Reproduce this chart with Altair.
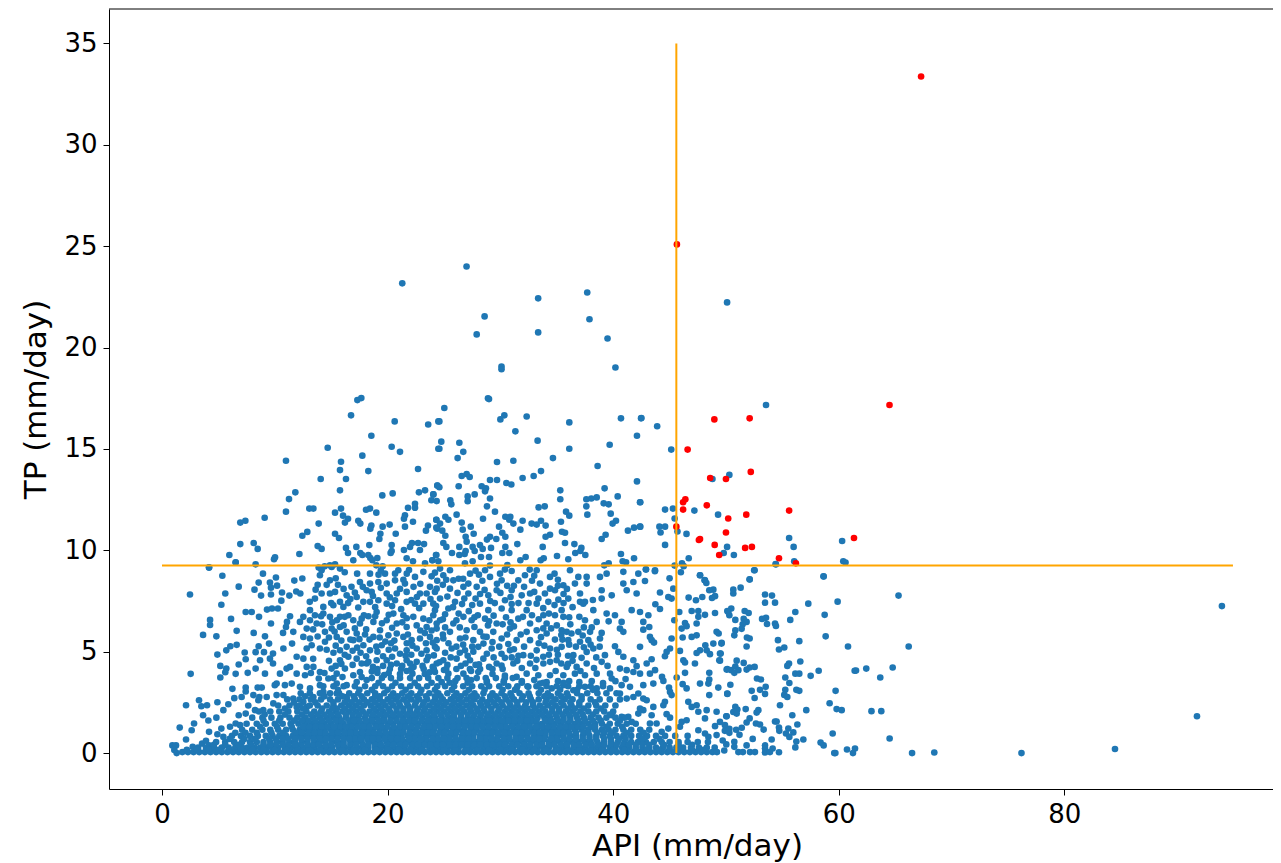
import altair as alt
import pandas as pd

threshold_api = 45.6
threshold_tp = 9.25
line_api_end = 94.95
line_tp_end = 35.0

red_points = [[67.3,33.37],[45.65,25.09],[64.5,17.17],[48.97,16.46],[52.1,16.51],[46.6,14.97],[52.2,13.87],[48.6,13.57],
[50.0,13.52],[46.4,12.52],[46.2,12.37],[46.2,12.01],[48.3,12.22],[55.6,11.96],[51.8,11.76],[50.2,11.57],[45.6,11.17],
[50.0,10.88],[61.35,10.61],[47.7,10.56],[47.6,10.51],[49.0,10.27],[52.3,10.17],[51.7,10.12],[49.4,9.77],[54.7,9.61],[56.2,9.36]]

blue_top = [[21.3,23.17],[27.0,24.0],[33.35,22.43],[37.7,22.72],[50.1,22.23],[28.6,21.54],[27.9,20.65],[33.35,20.75],
[37.9,21.4],[39.5,20.45],[30.1,19.07],[30.1,18.93],[40.2,19.02],[28.9,17.5]]

blue_right_high = [[53.55,17.17],[43.9,16.12],[42.5,16.53],[45.15,14.97],[50.3,13.72],[48.8,13.52],[42.4,12.37],[44.6,12.01],
[45.3,12.06],[47.2,11.96],[49.3,11.76],[45.45,11.57],[42.4,11.17],[44.1,11.17],[44.6,11.17],[44.2,10.88],[45.7,10.93],
[46.5,10.81],[44.6,10.27],[55.6,10.61],[56.0,10.17],[60.3,10.46],[50.1,10.17],[49.8,9.87],[50.7,9.77],[46.7,9.61],[46.1,9.36],
[45.45,9.25],[46.25,9.22],[54.4,9.32],[56.05,9.46],[60.4,9.46],[60.6,9.4],[42.9,9.07],[43.7,8.97],[46,8.92],[47.7,8.77],
[52.5,9.02],[58.65,8.72],[45,8.62],[52.1,8.57],[48.1,8.53]]

blue_left_high = [[17.67,17.51],[17.32,17.41],[16.76,16.66],[20.63,16.36],[23.6,16.21],[24.5,16.36],[18.56,15.65],[20.36,15.11],
[21.1,14.86],[14.69,15.06],[24.5,15.01],[10.99,14.42],[17.76,14.67],[15.87,14.37],[15.78,13.96],[18.29,13.91],[22.7,14.01],
[16.31,13.52],[14.07,13.52],[15.78,12.96],[11.82,12.86],[11.26,12.53],[19.53,12.71],[20.45,12.81],[22.78,12.86],[23.32,12.96],
[24.41,13.2],[24.05,12.76],[23.88,12.47],[24.35,12.43],[13.06,12.06],[13.42,12.06],[15.87,12.06],[18.09,12.0],[18.44,12.06],
[15.34,11.86],[19,11.86],[10.99,11.91],[21.81,12.1],[22.43,12.3],[22.43,12.1],[21.54,11.73],[21.45,11.56],[16.05,11.71],
[16.49,11.56],[16.22,11.37],[17.4,11.46],[17.58,11.32],[9.1,11.61],[7.39,11.46],[6.94,11.37],[13.89,11.32],[18.56,11.22],
[18.47,11.07],[19.56,11.17],[20.18,11.27],[21.54,11.17],[22.25,11.41],[24.32,11.51],[23.58,11.22],[23.4,10.97],[24.41,11.07],
[20.72,10.82],[19.36,10.82],[19.27,10.56],[15.34,10.82],[15.69,10.61],[12.88,10.91],[12.44,10.72],[6.94,10.31],[8.13,10.36],
[8.48,10.07],[5.97,9.77],[6.53,9.41],[8.3,9.31],[4.17,9.16],[9.93,9.56],[10.02,9.66],[12.18,9.82],[13.8,10.21],[14.15,10.07],
[16.31,10.12],[17.23,10.17],[16.49,9.87],[17.58,9.87],[17.76,9.77],[18.38,10.26],[18.29,9.77],[18.47,9.62],[19.09,9.62],
[18.65,9.51],[20.36,10.26],[20.36,9.97],[20.27,9.87],[21.45,10.02],[21.99,10.17],[22.16,10.36],[22.7,10.36],[23.23,10.31],
[22.87,10.02],[21.69,9.61],[22.25,9.46],[24.32,9.77],[23.97,9.51],[23.32,9.36],[16.96,9.51],[19,9.26],[19.56,9.21],[15.34,9.31],
[14.89,9.26],[14.42,9.21],[13.89,9.15]]

blue_mid_high = [[28.99,17.46],[25.03,17.02],[24.59,16.36],[30.35,16.66],[30,16.46],[32.33,16.6],[36.11,16.31],[40.69,16.51],
[42.47,16.51],[31.33,15.87],[42.11,15.65],[33.3,15.41],[26.36,15.31],[24.76,15.36],[24.59,15.01],[26.71,14.86],[36.11,15.01],
[39.69,15.21],[26.21,14.55],[29.7,14.36],[31.15,14.42],[34.66,14.55],[38.62,14.16],[33.6,13.91],[32.95,13.67],[31.97,13.57],
[29.7,13.47],[29.08,13.47],[30.53,13.32],[30.97,13.25],[27.01,13.76],[26.57,13.67],[27.28,13.62],[26.3,13.16],[24.41,13.2],
[24.59,13.11],[28.34,13.16],[28.72,13.06],[28.64,12.91],[27.72,12.76],[27.1,12.66],[27.1,12.42],[29.08,12.56],[28.81,12.17],
[29.52,11.91],[25.56,12.47],[25.65,12.27],[24.06,12.76],[35.31,12.96],[35.31,12.52],[33.39,12.12],[33.93,12.17],[35.82,11.91],
[36.11,11.71],[37.62,12.52],[38.06,12.56],[38.54,12.61],[37.62,12.17],[37.71,11.76],[39.24,13.06],[39.16,12.32],[39.6,12.27],
[40.4,12.66],[42.11,13.4],[42.38,12.37],[39.78,11.81],[26.12,11.76],[25.12,11.66],[25.39,11.51],[24.32,11.51],[24.65,11.32],
[26.57,11.37],[28.46,11.56],[30.44,11.66],[30.88,11.66],[30.79,11.51],[31.15,11.32],[31.97,11.46],[32.77,11.32],[33.22,11.27],
[33.6,11.46],[34.01,11.22],[35.37,11.41],[40.25,11.46],[39.95,11.32],[41.85,11.12],[42.38,11.17],[41.31,10.97],[27.37,11.17],
[26.66,11.02],[29.88,11.17],[31.77,11.02],[24.32,11.12],[24.85,10.97],[25.12,10.72],[27.63,10.82],[26.92,10.67],[30.17,10.87],
[29.08,10.67],[28.81,10.53],[29.64,10.56],[30.44,10.67],[35.46,10.92],[35.73,10.87],[34.4,10.77],[34.01,10.67],[39.33,10.77],
[38.98,10.56],[35.73,10.36],[36.56,10.31],[31.5,10.31],[24.94,10.36],[25.21,10.17],[26.36,10.17],[27.01,10.43],[28.19,10.26],
[27.54,10.17],[28.43,10.07],[27.72,9.97],[26.92,9.97],[29.17,10.12],[30.44,10.17],[33.75,10.17],[25.71,9.87],[26.36,9.77],
[26.83,9.82],[28.99,9.67],[28.28,9.67],[30.17,9.87],[30.79,9.87],[32.24,9.67],[31.77,9.51],[33.84,9.61],[33.57,9.51],[35.02,9.72],
[36.02,9.56],[36.64,9.87],[37.18,10.12],[37.09,9.97],[37.53,9.77],[40.69,9.82],[41.85,9.61],[40.84,9.46],[41.14,9.41],[39.6,9.36],
[39.21,9.26],[24.29,9.77],[23.97,9.51],[24.5,9.46],[26.86,9.36],[27.54,9.46],[29.08,9.25],[30.62,9.28]]

blue_left_low = [[4.17,9.15],[6.53,9.4],[5.35,8.75],[8.95,8.85],[6.8,8.21],[8.57,8.41],[8.2,8.06],[10.1,8.66],[9.57,8.41],[9.66,8.16],
[10.2,8.26],[2.48,7.82],[5.61,7.87],[5.26,7.32],[8.78,7.77],[9.66,7.82],[10.64,7.92],[10.58,7.52],[11.73,8.51],[12.44,8.61],
[11.29,7.77],[11.9,7.97],[12.26,7.87],[13.62,8.06],[7.42,6.96],[7.95,6.96],[9.31,7.08],[9.75,7.13],[10.28,7.13],[8.6,6.72],[6.12,6.62],
[4.26,6.57],[4.26,6.32],[9.66,6.39],[6.62,6.03],[3.64,5.83],[4.82,5.76],[8.13,5.93],[9.13,5.76],[10.73,5.93],[11.35,6.75],[11.08,6.47],
[10.99,6.22],[11.64,5.98],[6.62,5.34],[6.06,5.27],[5.7,5.07],[4.91,4.86],[7.33,4.96],[8.57,5.27],[8.3,4.98],[9.49,5.4],[9.04,4.98],
[9.84,4.91],[10.76,5.16],[11.53,5.4],[5.17,4.3],[5.7,4.17],[6.8,4.37],[7.42,4.63],[7.6,3.96],[8.3,4.17],[8.69,4.58],[9.57,4.66],[9.84,4.42],
[9.13,3.92],[2.54,3.91],[5.17,3.73],[5.61,3.99],[6.53,3.91],[6.24,3.17],[7.42,3.23],[7.42,3.04],[8.48,3.23],[8.84,3.23],[10,3.35],[3.28,2.61],
[2.13,2.36],[3.49,2.31],[3.99,2.36],[4.91,2.51],[3.64,1.87],[4.11,1.61],[4.82,1.75],[5.44,2.12],[5.88,2.41],[6.41,2.71],[7.06,2.77],[6.8,1.87],
[7.42,1.95],[1.57,1.26],[2.84,1.46],[2.63,1.13],[4.17,1.05],[2.13,0.67],[4.91,0.93],[0.92,0.38],[1.24,0.38],[1.09,0.15],[1.3,0.0],[2.72,0.31],
[3.55,0.47],[3.9,0.61],[4.17,0.39],[5.26,1.21],[5.44,0.8],[6.03,1.3],[6.53,1.46],[6.92,1.38],[7.65,2.35],[8.1,2.86],[8.54,2.61],[8.98,2.12],
[8.25,2.12],[8.63,2.77],[10.16,2.86]]

blue_right_low = [[52.54,9.02],[52.1,8.56],[54.43,9.31],[58.66,8.71],[51.3,8.16],[50.65,8.06],[50.65,7.87],[53.46,7.82],[54.08,7.77],[53.46,7.42],
[54.35,7.42],[57.3,7.37],[59.9,7.47],[65.3,7.77],[50.47,7.13],[50.12,7.01],[50.3,6.8],[51.66,7.01],[52.01,6.91],[56.15,6.96],[58.75,6.82],
[50.83,6.57],[51.57,6.62],[51.83,6.47],[51.48,6.35],[51.39,6.13],[50.83,6.06],[50.74,5.81],[53.2,6.62],[53.55,6.67],[53.64,6.37],[54.35,6.39],
[54.43,6.27],[55.7,6.57],[51.86,5.7],[52.1,5.65],[51.83,5.26],[54.61,5.57],[56.5,5.52],[58.84,5.76],[55.17,5.21],[54.7,5.11],[60.82,5.26],
[66.2,5.26],[49.6,5.4],[49.53,4.91],[50.95,4.56],[51.57,4.45],[49.47,4.56],[56.59,4.52],[55.59,4.42],[55.44,4.3],[50.83,4.27],[50.12,4.14],
[50.47,4.09],[50.74,3.96],[51.1,4.09],[52.1,4.22],[51.83,4.12],[52.54,4.25],[56.15,3.92],[56.5,3.92],[58.22,4.06],[57.51,3.81],[61.41,4.06],
[61.53,4.07],[62.44,4.17],[64.78,4.22],[63.68,3.73],[55.26,3.73],[55.62,3.46],[52.75,3.68],[53.1,3.63],[50.39,3.37],[53.52,3.27],[53.02,3.12],
[52.28,3.07],[55.26,3.12],[56.24,3.12],[56.5,3.07],[59.72,3.07],[50.12,2.92],[53.46,2.92],[55.17,2.87],[55.44,2.77],[52.54,2.72],[54.79,2.36],
[59.19,2.46],[57.12,2.12],[59.81,2.17],[60.26,2.12],[63.77,2.07],[50.83,2.28],[51.01,2.15],[50.65,2.03],[50.95,1.95],[51.75,2.17],[52.87,2.12],
[52.72,2],[50.03,1.82],[52.1,1.71],[51.83,1.51],[55.88,1.87],[52.66,1.46],[53.02,1.41],[53.34,1.16],[54.35,1.56],[54.49,1.56],[54.7,1.26],
[54.73,1.1],[56.33,1.41],[55.53,1.21],[55.97,1.02],[55.32,0.97],[55.62,0.8],[56.86,0.67],[56.24,0.57],[56.15,0.28],[59.46,0.97],[64.51,0.72],
[58.39,0.52],[58.66,0.38],[60.73,0.18],[61.44,0.23],[61.26,0.0],[59.6,0.0],[59.7,0.0],[66.5,0.0],[68.47,0.03],[52.37,0.7],[54.05,0.67],
[50.74,0.56],[50.74,0.31],[50.03,0.43],[49.71,0.62],[49.85,0.13],[51.83,0.38],[53.46,0.38],[53.46,0.23],[54.14,0.23],[51.1,0.05],[51.5,0.05],
[52.13,0.05],[52.57,0.05],[53.46,0.03],[53.9,0.05],[54.7,0.04],[93.97,7.25],[91.76,1.82],[84.49,0.2],[76.2,0.0],[62.9,2.07],[50.3,1.2],[50.9,1.15],
[51.4,1.25],[49.9,1.1],[50.3,1.0],[51.2,0.9]]

blue_gap_right = [[47.7,8.77],[48.14,8.52],[48.26,8.39],[48.88,8.06],[48.52,8.03],[49.03,7.74],[48.76,7.65],[46.69,7.67],[47.34,7.54],[47.9,7.7],
[45.33,8.11],[45.18,7.62],[44.89,7.7],[44.15,7.92],[45.86,6.96],[46.96,7.01],[47.55,7.01],[48.14,6.82],[49.03,6.91],[50.21,6.96],[43.74,7.34],
[44.15,7.11],[45.42,6.55],[46.37,6.42],[46.51,6.26],[46.07,6.14],[47.55,6.72],[47.4,6.39],[49.17,5.98],[49.35,5.9],[46.96,5.73],[47.4,5.81],
[46.16,5.7],[45.18,5.65],[43.2,6.22],[43.26,5.73],[43.41,5.57],[43.62,5.45],[42.67,6.09],[48.17,5.32],[48.88,5.4],[49.62,5.44],[48.29,5.07],
[48.58,4.88],[49.47,4.91],[49.41,4.58],[45.04,5.16],[44.74,4.99],[44.59,4.78],[45.92,5.04],[46.22,4.58],[46.37,4.47],[47.25,4.42],[47.7,5.07],
[47.4,4.94],[50.06,4.12],[48.52,3.96],[48.52,3.63],[48.44,3.43],[46.37,3.96],[45.63,3.73],[47.7,3.43],[46.16,3.4],[46.51,3.19],[49.32,3.23],
[50.12,2.94],[48.52,2.86],[44.95,3.23],[45.04,3.02],[45.18,2.86],[44.33,3.76],[44.45,3.56],[43.26,3.92],[43.71,4.09],[42.97,4.42],[43.41,4.63],
[44.59,2.53],[44.45,2.36],[46.66,2.53],[46.96,2.28],[47.4,2.36],[47.55,2.04],[48.29,2.12],[48.14,1.71],[49.17,2.04],[50.06,1.82],[44.74,1.92],
[45.04,1.75],[46.51,1.62],[46.07,1.54],[45.92,1.3],[49.47,1.54],[49.03,1.33],[49.91,1.38],[47.55,1.13],[48.14,0.97],[48.44,0.8],[49.17,0.89],
[50.21,1.13],[44.89,1.21],[44.3,1.05],[43.85,1.46],[43.26,1.46],[42.67,2.12],[42.38,2.2],[42.23,1.95],[43.41,1.87],[42.67,2.69],[42.97,2.61],
[43.56,2.28],[41.2,2.69],[41.79,2.77],[41.34,1.79],[41.64,1.54],[40.75,1.79],[39.87,1.87]]

blue_mid_left = [[13.1,7.46],[13.56,7.62],[14.15,7.87],[14.89,7.87],[15.34,7.95],[14.89,8.52],[14.0,8.77],[14.15,9.02],[15.04,9.18],[15.78,9.1],
[16.37,7.78],[15.78,7.46],[15.19,7.29],[16.08,7.21],[14.3,7.21],[13.12,7.05],[13.56,6.8],[14.3,6.88],[14.89,6.72],[15.78,6.72],[16.52,6.8],
[16.96,6.55],[17.55,6.39],[17.7,6.63],[17.26,7.7],[17.85,7.46],[18.44,7.46],[17.55,8.44],[18.44,8.85],[19.77,8.85],[20.66,8.85],[20.95,9.02],
[22.43,8.69],[23.17,8.94],[18.44,8.36],[19.18,8.44],[19.92,8.36],[20.66,8.52],[21.54,8.36],[18.14,8.03],[18.59,7.95],[19.92,7.87],[20.81,7.87],
[21.69,7.95],[23.76,8.2],[23.46,7.87],[24.2,7.95],[22.87,7.87],[19.18,7.54],[19.92,7.37],[20.66,7.54],[21.69,7.46],[22.43,7.37],[23.17,7.37],
[24.05,7.37],[19.03,6.96],[20.51,6.88],[21.4,6.8],[22.28,6.72],[23.17,6.63],[24.05,6.8],[19.92,6.55],[18.74,6.47],[20.81,6.39],[21.69,6.22],
[22.58,6.3],[23.46,6.22],[24.35,6.39],[12.53,6.72],[12.23,6.47],[13.12,6.55],[13.71,6.39],[12.83,6.14],[15.04,6.14],[15.78,6.22],[16.37,5.98],
[17.26,5.9],[14.45,5.98],[13.12,5.65],[12.53,5.73],[14.45,5.49],[15.49,5.73],[16.96,5.57],[16.37,5.24],[15.78,5.07],[13.27,5.32],[12.83,5.16],
[14.0,5.16],[17.85,5.32],[18.74,5.73],[19.33,6.06],[20.07,5.81],[20.81,5.9],[21.4,5.73],[22.13,5.57],[22.87,5.65],[23.76,5.73],[24.35,5.57],
[19.48,5.32],[18.44,5.07],[20.66,5.16],[21.69,5.07],[22.58,5.16],[23.46,5.07],[24.2,5.24],[12.53,4.66],[11.94,4.75],[11.35,4.25],[13.42,4.25],
[14.0,4.0],[15.78,4.58],[16.52,4.75],[17.26,4.66],[18.14,4.42],[19.03,4.58],[19.92,4.58],[20.81,4.42],[21.69,4.58],[22.58,4.5],[23.46,4.58],
[24.35,4.42],[10.46,3.92],[11.05,4.17],[11.94,3.92],[12.83,4.25],[12.68,3.84],[15.49,3.92],[16.22,4.17],[17.55,4.0],[16.96,3.84],[15.04,4.17],
[10.16,3.43],[10.9,3.35],[11.5,3.43],[12.23,3.27],[13.12,3.19],[14.0,3.35],[14.75,3.68],[15.49,3.43],[16.37,3.35],[17.26,3.51],[18.14,3.6],
[9.28,2.77],[9.87,2.45],[10.76,2.86],[11.64,2.69],[12.53,2.53],[13.42,2.77],[11.94,2.28],[12.83,2.28],[14.3,3.02],[15.49,2.94],[16.37,2.77]]

blue_mid_right = [[24.65,9.1],[25.53,9.02],[27.31,8.85],[28.64,9.02],[29.97,8.85],[31,8.98],[32.18,8.77],[33.22,9.02],[34.4,8.69],[36.17,9.02],
[36.91,8.69],[37.65,8.69],[38.83,8.69],[39.42,8.85],[40.9,8.94],[42.23,8.85],[43.71,9.02],[42.91,9.05],[24.94,8.77],[25.83,8.52],[27.16,8.36],
[29.08,8.69],[30.11,8.52],[31.59,8.52],[33.51,8.36],[34.4,8.11],[35.58,8.28],[36.61,8.36],[37.65,8.36],[40.9,8.36],[41.79,8.44],[42.82,8.49],
[24.35,8.11],[25.53,8.11],[26.72,8.2],[27.9,8.2],[29.67,8.03],[31,8.03],[32.63,7.87],[33.95,7.87],[34.84,8.03],[37.06,7.87],[38.98,8.03],[41.2,8.03],
[42.08,7.87],[24.65,7.62],[25.98,7.46],[27.16,7.87],[28.93,7.78],[30.41,7.54],[31.89,7.78],[33.37,7.62],[34.25,7.46],[35.14,7.57],[36.02,7.62],
[37.5,7.46],[38.98,7.62],[39.87,7.78],[24.2,7.05],[25.39,7.13],[26.72,6.72],[28.19,7.37],[28.93,7.05],[30.11,7.13],[31,7.05],[32.33,7.05],[33.22,7.37],
[33.81,6.8],[34.84,6.8],[35.43,7.05],[37.06,7.46],[37.35,7.37],[38.24,7.05],[39.42,6.88],[41.64,7.05],[42.38,6.96],[43.12,6.8],[40.16,6.8],[24.65,6.55],
[25.83,6.39],[27.45,6.55],[28.64,6.63],[29.67,6.39],[31.59,6.63],[32.63,6.39],[34.1,6.39],[35.58,6.72],[37,6.72],[37.5,6.55],[38.54,6.47],[40.75,6.47],
[42.67,6.47],[40.6,6.14],[40.9,5.98],[24.35,6.14],[25.53,5.98],[27.01,6.06],[28.19,5.98],[29.37,5.98],[30.85,6.14],[32.33,5.98],[33.22,6.06],[34.1,5.9],
[35.43,6.06],[35.88,5.98],[36.91,5.98],[37.95,5.98],[38.98,5.93],[24.94,5.65],[26.42,5.65],[27.6,5.57],[28.78,5.73],[30.11,5.65],[31.44,5.57],[32.63,5.57],
[34.84,5.6],[36.02,5.57],[37.06,5.49],[37.8,5.57],[38.83,5.65],[40.16,5.27],[42.38,5.24],[24.35,5.16],[25.68,5.16],[26.86,5.07],[28.04,5.24],[29.23,5.16],
[30.85,5.07],[32.03,4.83],[33.22,5.07],[34.4,5.16],[35.43,5.24],[36.47,4.83],[37.65,4.99],[38.24,5.16],[39.27,4.83],[40.46,4.99],[40.9,4.75],[41.79,4.58],
[42.08,4.29],[24.94,4.58],[26.12,4.66],[27.31,4.58],[28.49,4.66],[29.67,4.42],[31.15,4.42],[32.63,4.42],[33.81,4.42],[34.99,4.58],[35.88,4.25],[36.76,4.25],
[37.65,4.42],[38.98,4.5],[40.6,4.17],[41.2,4.09],[41.79,4.0],[42.38,3.92],[24.2,4.0],[25.39,3.92],[26.72,3.92],[28.04,4.0],[31.44,3.76],[32.33,3.92],
[33.36,3.84],[34.4,3.84],[35.58,3.84],[36.61,3.92],[37.5,3.84],[38.54,3.92],[39.72,3.92],[40.75,3.35],[41.49,3.27],[42.67,3.35],[43.56,3.43],[39.87,3.68],
[31.44,3.19],[32.48,3.27],[33.51,3.43],[34.55,3.19],[35.58,3.35],[36.47,3.1],[37.5,3.27],[38.54,3.19],[39.72,3.19],[40.6,2.94],[42.23,2.94]]

blue_mid_extra = [[14.6,8.3],[15.4,8.62],[16.2,8.92],[16.8,8.2],[17.1,7.92],[16.1,8.1],[13.8,8.3],[19.4,9.0],[21.9,9.03],[22.3,8.2],[23.9,8.72],[21.1,8.1],
[22.6,7.7],[24.9,8.3],[26.3,8.6],[26.2,7.9],[28.4,8.5],[28.6,8.05],[30.6,8.25],[32.1,8.2],[33,8.75],[35.1,8.55],[35.9,8.1],[26.6,7.35],[27.8,7.62],[29.5,7.4],
[30.9,7.7],[32.5,7.4],[34.8,7.3],[36.4,7.2],[38.2,7.55],[25.1,6.85],[26.1,6.55],[27.2,7.0],[28,6.8],[29.4,6.78],[30.5,6.7],[32,6.72],[33.4,6.6],[34.5,6.15],
[36.2,6.35],[38.1,6.2],[39.6,6.5],[13.4,6.1],[14.2,6.35],[15.1,6.45],[16.1,6.3],[17.1,6.15],[18.1,6.1],[18.3,6.75],[19.5,6.4],[20.4,6.18],[21.3,6.45],[22.9,6.05],
[23.9,6.05],[25.1,6.2],[26.4,6.2],[27.7,6.22],[28.9,6.3],[30.2,6.35],[31.2,6.25],[33.8,6.15],[35,6.3],[36.3,5.9],[37.4,6.2],[14.8,5.7],[13.8,5.75],[15.9,5.55],
[17.5,5.62],[18,5.85],[19.8,5.5],[20.6,5.55],[21.7,5.42],[23.4,5.42],[25.4,5.42],[26.7,5.35],[27.5,5.25],[29.3,5.48],[30.7,5.38],[32.1,5.25],[33.4,5.42],[35.5,5.6],
[36.7,5.25],[37.4,5.22],[38.8,5.25],[14.6,5.1],[15.2,4.95],[16.9,5.05],[17.6,4.95],[19.1,5.0],[20.1,5.1],[21.1,4.9],[22.1,4.85],[23,4.9],[24.1,4.82],[25.1,4.95],[26.4,4.95],
[27.6,5.0],[28.8,4.9],[30.1,4.9],[31.6,4.8],[33.8,4.75],[35.1,4.85],[37.2,4.7],[38.5,4.72],[14.8,4.55],[13.4,4.65],[15.4,4.3],[16.9,4.35],[17.7,4.42],[18.7,4.25],[19.6,4.3],
[20.4,4.75],[21.3,4.3],[22.3,4.25],[23.1,4.3],[24,4.25],[25.3,4.35],[26.5,4.3],[27.8,4.35],[29,4.25],[30.4,4.7],[31.9,4.2],[33.1,4.2],[34.4,4.5],[35.4,4.42],[36.4,4.55],
[37.1,4.05],[38.3,4.2],[39.5,4.3],[13.2,3.95],[13.9,3.68],[15.2,3.7],[16,3.75],[17.7,3.75],[19.1,3.95],[20.1,3.95],[21.1,3.9],[22.2,3.92],[23.3,3.9],[24.8,3.5],[26,3.55],
[27.4,3.6],[28.8,3.55],[30.3,3.55],[31.9,3.55],[33,3.6],[34.1,3.5],[35.1,3.55],[36.1,3.55],[37,3.5],[38.1,3.55],[39.1,3.45],[40.2,3.55],[41.1,3.65]]

blue_mid_more = [[14.4,3.95],[18.6,4.02],[19.7,3.85],[21.7,4.05],[23.7,3.98],[25,4.1],[27.4,4.05],[29.3,3.9],[30.4,3.82],[34.9,4.05],[15.9,4.4],[18.3,4.5],[20.3,4.35],
[22,4.42],[24.6,4.48],[26.9,4.42],[28.1,4.38],[30.1,4.32],[31.5,4.55],[33.2,4.6],[36,4.4],[16.2,4.85],[18.1,4.78],[19.6,4.78],[21.6,4.8],[23.6,4.75],[25.6,4.72],[27.1,4.8],
[29.4,4.72],[31,4.72],[32.7,4.8],[34.3,4.85],[36,4.8],[15.4,5.3],[17.3,5.2],[19,5.25],[20.3,5.42],[22.2,5.3],[24,5.45],[26.1,5.25],[28.5,5.4],[29.9,5.25],[31.2,5.12],[33.9,5.3],
[35,5.1],[36.1,5.35],[38,5.35],[15.3,6.0],[16.7,5.6],[18.4,5.6],[19.3,5.7],[21.8,5.85],[23.3,5.92],[24.9,5.85],[26.9,5.7],[28.5,5.75],[30.6,5.85],[31.8,5.85],[33.6,5.72],[35.4,5.82],
[37.3,5.8],[14.1,6.75],[15.5,6.55],[16.2,6.72],[17.9,6.8],[18.9,6.75],[20.1,6.82],[21.7,6.65],[23.7,6.55],[24.9,6.6],[26.3,6.88],[27.7,6.7],[29,6.5],[30.9,6.45],[32.8,6.8],[34.3,6.88],
[36.1,6.7],[15,7.4],[16.5,7.4],[17.4,7.18],[18.9,7.2],[20.4,7.25],[21.2,7.1],[22.8,7.15],[24.3,7.25],[25.8,7.2],[27.5,7.3],[29.1,7.5],[31,7.35],[33.8,7.15],[35.6,7.4],[16.7,7.6],[18.7,7.75],
[20.2,7.68],[22.1,7.55],[23.8,7.6],[25.3,7.72],[26.8,7.62],[28.2,7.85],[30,7.9],[31.6,7.4],[33,7.95],[35.6,7.85],[15.6,8.3],[17.8,8.2],[19.4,8.15],[21.4,8.55],[22.9,8.35],[24.4,8.5],
[26.7,8.6],[28.1,8.8],[29.7,8.35],[31.2,8.25],[32.8,8.5],[35.1,8.25],[17.3,8.85],[19.2,8.8],[21.7,8.85],[24.2,8.9],[25.2,8.55],[27.8,9.0],[30.4,9.05],[32.6,9.05],[34.8,8.85]]

dense_tp = [4.15, 3.7, 3.3, 2.95, 2.65, 2.35, 2.05, 1.75, 1.45, 1.15, 0.85, 0.55, 0.27, 0.05]
dense_api = [
[19.1,20.2,21.2,22.1,23.2,24.1,25.2,26.1,27.3,28.2,29.3,30.2],
[18.6,19.5,20.3,21.1,22,22.8,23.6,24.5,25.3,26.2,27,27.9,28.7,29.6,30.4,31.1],
[14.3,15.2,16.1,17.1,18,18.9,19.6,20.4,21.2,22,22.7,23.5,24.4,25.1,25.9,26.7,27.5,28.3,29,29.9,30.7,31.5,32.4,33.2,34.1,35,36,37,38,39.1],
[12.3,13.1,14,14.9,15.7,16.6,17.4,18.2,18.9,19.7,20.5,21.3,22.1,22.9,23.7,24.5,25.3,26.1,26.9,27.7,28.5,29.3,30.1,30.9,31.7,32.5,33.4,34.2,35.1,35.9,36.8,37.7,38.6,39.4,40.3],
[11.1,12.2,13.2,14.1,14.9,15.6,16.4,17.1,17.9,18.6,19.3,20,20.7,21.4,22.1,22.8,23.5,24.2,24.9,25.6,26.3,27,27.7,28.4,29.1,29.8,30.5,31.2,31.9,32.7,33.4,34.1,34.9,35.7,36.4,37.2,38,38.8,39.7,40.6],
[10.3,11.3,12.2,13.1,13.8,14.6,15.2,15.9,16.6,17.2,17.9,18.5,19.2,19.8,20.5,21.1,21.8,22.4,23.1,23.7,24.4,25,25.7,26.3,27,27.6,28.3,28.9,29.6,30.2,30.9,31.5,32.2,32.9,33.5,34.2,34.9,35.6,36.3,37,37.8,38.5,39.3,40.2],
[8.6,9.6,10.4,11.2,12,12.8,13.5,14.1,14.8,15.4,16,16.6,17.2,17.8,18.4,19,19.6,20.2,20.8,21.4,22,22.6,23.2,23.8,24.4,25,25.6,26.2,26.8,27.4,28,28.6,29.2,29.8,30.4,31,31.6,32.2,32.8,33.4,34,34.6,35.2,35.8,36.4,37.1,37.8,38.5,39.2,40],
[8,8.9,9.7,10.5,11.3,12,12.7,13.4,14,14.6,15.2,15.7,16.3,16.9,17.4,18,18.6,19.1,19.7,20.3,20.8,21.4,22,22.5,23.1,23.7,24.2,24.8,25.4,25.9,26.5,27.1,27.6,28.2,28.8,29.3,29.9,30.5,31,31.6,32.2,32.7,33.3,33.9,34.4,35,35.6,36.2,36.8,37.4,38,38.7,39.4,40.2,41],
[7.5,8.4,9.2,10,10.7,11.4,12.1,12.7,13.3,13.9,14.4,15,15.6,16.1,16.7,17.2,17.8,18.3,18.9,19.4,20,20.5,21.1,21.6,22.2,22.7,23.3,23.8,24.4,24.9,25.5,26,26.6,27.1,27.7,28.2,28.8,29.3,29.9,30.4,31,31.5,32.1,32.6,33.2,33.7,34.3,34.8,35.4,36,36.6,37.2,37.8,38.4,39,39.7,40.4,41.2,42],
[7.1,8,8.9,9.6,10.3,11,11.6,12.2,12.8,13.3,13.9,14.4,15,15.5,16,16.6,17.1,17.7,18.2,18.7,19.3,19.8,20.4,20.9,21.4,22,22.5,23.1,23.6,24.1,24.7,25.2,25.8,26.3,26.8,27.4,27.9,28.5,29,29.5,30.1,30.6,31.2,31.7,32.2,32.8,33.3,33.9,34.4,34.9,35.5,36,36.6,37.2,37.8,38.4,39,39.6,40.2,40.9,41.6,42.4,43.2],
[6.2,7,7.8,8.5,9.2,9.8,10.4,11,11.6,12.1,12.7,13.2,13.8,14.3,14.8,15.4,15.9,16.4,17,17.5,18,18.6,19.1,19.6,20.2,20.7,21.2,21.8,22.3,22.8,23.4,23.9,24.4,25,25.5,26,26.6,27.1,27.6,28.2,28.7,29.2,29.8,30.3,30.8,31.4,31.9,32.4,33,33.5,34,34.6,35.1,35.6,36.2,36.7,37.3,37.9,38.5,39.1,39.7,40.3,40.9,41.6,42.3,43,43.8,44.6,45.5,46.6],
[4.8,5.6,6.4,7.1,7.8,8.4,9,9.6,10.2,10.7,11.3,11.8,12.4,12.9,13.5,14,14.5,15.1,15.6,16.1,16.7,17.2,17.7,18.3,18.8,19.3,19.9,20.4,20.9,21.5,22,22.5,23.1,23.6,24.1,24.7,25.2,25.7,26.3,26.8,27.3,27.9,28.4,28.9,29.5,30,30.5,31.1,31.6,32.1,32.7,33.2,33.7,34.3,34.8,35.3,35.9,36.4,36.9,37.5,38,38.6,39.2,39.8,40.4,41,41.6,42.2,42.9,43.6,44.3,45,45.8,46.6,47.5,48.4],
[3.2,3.9,4.6,5.3,5.9,6.5,7.1,7.6,8.2,8.7,9.3,9.8,10.3,10.9,11.4,11.9,12.5,13,13.5,14.1,14.6,15.1,15.7,16.2,16.7,17.3,17.8,18.3,18.9,19.4,19.9,20.5,21,21.5,22.1,22.6,23.1,23.7,24.2,24.7,25.3,25.8,26.3,26.9,27.4,27.9,28.5,29,29.5,30.1,30.6,31.1,31.7,32.2,32.7,33.3,33.8,34.3,34.9,35.4,35.9,36.5,37,37.5,38.1,38.6,39.1,39.7,40.2,40.8,41.4,42,42.6,43.2,43.8,44.4,45,45.6,46.2,46.9,47.6,48.3,49],
[1.8,2.3,2.8,3.3,3.8,4.3,4.8,5.3,5.8,6.3,6.8,7.3,7.8,8.3,8.8,9.3,9.8,10.3,10.8,11.3,11.8,12.3,12.8,13.3,13.8,14.3,14.8,15.3,15.8,16.3,16.8,17.3,17.8,18.3,18.8,19.3,19.8,20.3,20.8,21.3,21.8,22.3,22.8,23.3,23.8,24.3,24.8,25.3,25.8,26.3,26.8,27.3,27.8,28.3,28.8,29.3,29.8,30.3,30.8,31.3,31.8,32.3,32.8,33.3,33.8,34.3,34.8,35.3,35.8,36.3,36.8,37.3,37.8,38.3,38.8,39.3,39.8,40.3,40.8,41.3,41.8,42.3,42.8,43.3,43.8,44.3,44.8,45.3,45.8,46.3,46.8,47.3,47.8,48.3,48.8,49.2],
]

fill_tp = [3.47, 3.12, 2.8, 2.5, 2.2, 1.9, 1.6, 1.3, 1.0, 0.7, 0.41, 0.16]
fill_api = [
[19.2,20.7,22.4,23.9,25.5,27.1,28.8,30.3,31.9,33.8,35.6],
[15.6,17.5,18.6,20,21.6,23,24.2,25.7,27.2,28.6,30.2,31.3,33.6,35.3,36.8,38.2],
[12.7,14.4,16,17.7,19.3,20.3,21.8,23.4,24.7,26.5,27.9,29.6,31,32.6,34.5,36,37.2],
[11.7,13.6,15.2,16.8,18.2,19.6,21,22.5,24,25.2,26.6,28.2,29.4,30.8,32.3,34,35.4,37,38.4],
[10.9,12.5,14.2,15.5,16.9,18.8,20.1,21.4,22.7,24.1,25.4,26.6,27.9,29.2,30.6,31.8,33.1,34.6,36,37.4,38.9],
[9.1,10.9,12.4,13.8,15,16.3,17.5,18.7,19.9,21.1,22.3,23.5,24.7,25.9,27.1,28.3,29.5,30.7,31.9,33.1,34.3,35.5,36.7,38.2,39.7],
[9,10.4,11.7,13,14.2,15.4,16.6,17.5,18.6,19.7,20.8,21.9,23,24.1,25.2,26.3,27.4,28.5,29.6,30.7,31.8,32.9,34,35.1,36.2,37.5,38.9,40.6],
[8.7,10.2,11.5,12.5,13.6,14.7,15.8,16.8,17.9,19,20,21.1,22.1,23.2,24.2,25.3,26.3,27.4,28.4,29.5,30.5,31.6,32.6,33.7,34.7,35.8,36.9,38.1,39.4,40.8],
[6.5,7.4,8.4,9.7,10.7,11.9,13,14,15.1,16.2,17.2,18.3,19.3,20.4,21.4,22.5,23.5,24.6,25.6,26.7,27.7,28.8,29.8,30.9,31.9,33,34,35.1,36.1,37.4,38.6,39.9,41.2,42.7],
[6,7.3,8.2,9.5,10.7,11.8,12.9,14,15,16.1,17.1,18.2,19.2,20.3,21.3,22.4,23.4,24.5,25.5,26.6,27.6,28.7,29.7,30.8,31.8,32.9,33.9,35,36.1,37.3,38.5,39.8,41.1,42.6,44.1],
[4.6,5.6,6.8,7.9,9,10.1,11.2,12.3,13.4,14.5,15.6,16.7,17.8,18.9,20,21.1,22.2,23.3,24.4,25.5,26.6,27.7,28.8,29.9,31,32.1,33.2,34.3,35.4,36.5,37.6,38.7,39.8,40.9,42,43.2,44.5,45.8,47],
[2.2,3.1,4.1,5,6,7,8,9,10,11,12,13,14,15,16,17,18,19,20,21,22,23,24,25,26,27,28,29,30,31,32,33,34,35,36,37,38,39,40,41,42,43,44,45,46,47,48],
]

core_tp = [1.3, 1.0, 0.7, 0.41, 1.6, 1.9, 2.2, 2.5, 2.8]
core_api = [
[13.05,14.15,15.25,16.3,17.35,18.4,19.5,20.55,21.6,22.65,23.7,24.75,25.8,26.85,27.9,28.95,30,31.05,32.1,33.15,34.2,35.25,36.3,37.35,38.4],
[12.4,13.5,14.5,15.6,16.7,17.75,18.8,19.85,20.9,21.95,23,24,25.05,26.1,27.15,28.25,29.3,30.35,31.4,32.45,33.5,34.55,35.6,36.7,37.8,39.2],
[10.1,11.2,12.35,13.45,14.55,15.55,16.6,17.65,18.7,19.75,20.85,21.9,22.95,24,25,26.05,27.15,28.2,29.25,30.3,31.35,32.4,33.45,34.5,35.6,36.7,37.9,39.2,40.5],
[9.6,10.7,11.8,12.9,13.9,15,16.1,17.2,18.3,19.4,20.5,21.6,22.7,23.8,24.9,26,27.1,28.2,29.3,30.4,31.5,32.6,33.7,34.8,35.9,37,38.1,39.2,40.3,41.4,42.6],
[12.4,13.6,14.8,15.9,17,18.1,19.2,20.25,21.35,22.4,23.55,24.65,25.75,26.85,27.95,29,30.15,31.25,32.35,33.2,34.5,35.6,36.9,38.2],
[13.2,14.4,15.6,16.9,18.1,19.3,20.5,21.7,22.9,24.1,25.3,26.5,27.7,28.9,30.1,31.3,32.5,33.7,34.9,36.1,37.3],
[15.1,16.2,17.6,19.4,20.8,22,23.3,24.7,26,27.3,28.5,29.9,31.2,32.4,33.8,35.2,36.6],
[16.2,17.5,18.9,20.3,21.7,23.2,24.6,25.9,27.4,28.8,30.1,31.5,32.9,34.6,36.2],
[17,18.9,20.9,22.6,24.2,25.9,27.4,29.1,30.4,32,33.9,35.4]]

pair_groups = [blue_top, blue_right_high, blue_left_high, blue_mid_high, blue_left_low, blue_right_low,
               blue_gap_right, blue_mid_left, blue_mid_right, blue_mid_extra, blue_mid_more]
blue_rows = [{"api": p[0], "tp": p[1]} for g in pair_groups for p in g]
for level, apis in list(zip(dense_tp, dense_api)) + list(zip(fill_tp, fill_api)) + list(zip(core_tp, core_api)):
    blue_rows.extend({"api": a, "tp": level} for a in apis)
red_rows = [{"api": p[0], "tp": p[1]} for p in red_points]

x_min, x_max = -4.7, 98.5
y_min, y_max = -1.77, 36.7
x_scale = alt.Scale(domain=[x_min, x_max], nice=False, zero=False)
y_scale = alt.Scale(domain=[y_min, y_max], nice=False, zero=False)
x_axis = alt.Axis(values=[0, 20, 40, 60, 80], title="API (mm/day)", grid=False, domain=True, domainColor="black",
                  tickSize=6, tickColor="black", labelFontSize=26, titleFontSize=31, labelFont="DejaVu Sans",
                  titleFont="DejaVu Sans", titleFontWeight="normal", labelColor="black", titleColor="black",
                  labelPadding=6, titleX=588, titleY=66, titleBaseline="alphabetic", titleAnchor="middle", format="d")
y_axis = alt.Axis(values=[0, 5, 10, 15, 20, 25, 30, 35], title="TP (mm/day)", grid=False, domain=True, domainColor="black",
                  tickSize=6, tickColor="black", labelFontSize=26, titleFontSize=31, labelFont="DejaVu Sans",
                  titleFont="DejaVu Sans", titleFontWeight="normal", labelColor="black", titleColor="black",
                  labelPadding=6, titleX=-57, titleAnchor="middle", format="d")

blue = alt.Chart(pd.DataFrame(blue_rows)).mark_circle(size=44, color="#1f77b4", opacity=1).encode(
    x=alt.X("api:Q", scale=x_scale, axis=x_axis),
    y=alt.Y("tp:Q", scale=y_scale, axis=y_axis),
)
red = alt.Chart(pd.DataFrame(red_rows)).mark_circle(size=44, color="#ff0000", opacity=1).encode(
    x=alt.X("api:Q", scale=x_scale), y=alt.Y("tp:Q", scale=y_scale))
hline = alt.Chart(pd.DataFrame([{"a": 0.0, "b": line_api_end, "t": threshold_tp}])).mark_rule(color="orange", strokeWidth=2).encode(
    x=alt.X("a:Q", scale=x_scale), x2="b:Q", y=alt.Y("t:Q", scale=y_scale))
vline = alt.Chart(pd.DataFrame([{"a": threshold_api, "t0": 0.0, "t1": line_tp_end}])).mark_rule(color="orange", strokeWidth=2).encode(
    x=alt.X("a:Q", scale=x_scale), y=alt.Y("t0:Q", scale=y_scale), y2="t1:Q")
top_edge = alt.Chart(pd.DataFrame([{"a": x_min, "b": x_max, "t": y_max}])).mark_rule(color="black", strokeWidth=1).encode(
    x=alt.X("a:Q", scale=x_scale), x2="b:Q", y=alt.Y("t:Q", scale=y_scale))

chart = alt.layer(blue, red, hline, vline, top_edge).properties(
    width=1164, height=780,
    padding={"left": 101, "top": 1, "right": 0, "bottom": 73},
    autosize=alt.AutoSizeParams(type="none"),
    background="white",
).configure_view(strokeWidth=0)

chart.save("out.html", embed_options={"renderer": "svg", "actions": False})
